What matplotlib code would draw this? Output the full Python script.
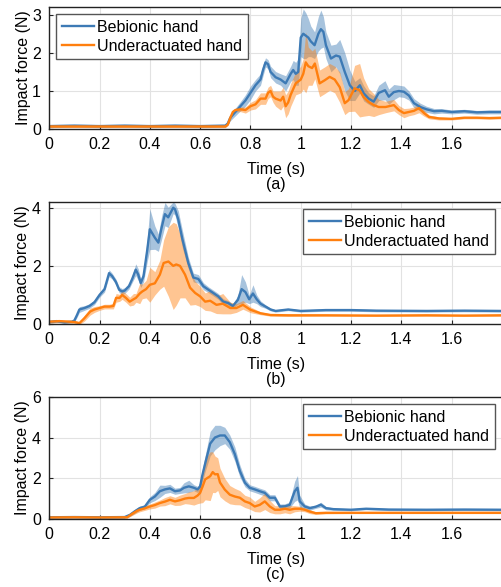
import matplotlib
matplotlib.use('Agg')
import matplotlib.pyplot as plt

plt.rcParams['font.family'] = ['Liberation Sans', 'DejaVu Sans']
plt.rcParams['font.size'] = 11.5

BLUE = '#3d7ab5'
ORANGE = '#ff7f0e'

# ---- panel (a) ----
ta_b = [0, 0.1, 0.2, 0.3, 0.4, 0.5, 0.6, 0.7,
        0.71, 0.72, 0.74, 0.76, 0.78, 0.80, 0.82, 0.84, 0.85, 0.86,
        0.87, 0.88, 0.90, 0.92, 0.94, 0.96, 0.97, 0.98, 0.99, 1.00,
        1.01, 1.02, 1.03, 1.04, 1.055, 1.07, 1.08, 1.09, 1.10, 1.12,
        1.14, 1.155, 1.175, 1.195, 1.215, 1.235, 1.25, 1.27, 1.29, 1.31,
        1.335, 1.35, 1.37, 1.39, 1.41, 1.43, 1.45, 1.475, 1.50, 1.53,
        1.56, 1.60, 1.65, 1.70, 1.75, 1.80]
va_b = [0.08, 0.09, 0.08, 0.09, 0.08, 0.09, 0.08, 0.09,
        0.15, 0.3, 0.45, 0.6, 0.75, 0.95, 1.15, 1.3, 1.55, 1.75,
        1.7, 1.5, 1.36, 1.3, 1.2, 1.45, 1.55, 1.45, 1.5, 2.4,
        2.5, 2.45, 2.4, 2.3, 2.2, 2.5, 2.62, 2.55, 2.2, 1.85,
        1.93, 1.9, 1.5, 1.15, 1.0, 1.15, 0.94, 0.8, 0.72, 0.95,
        1.02, 0.85, 0.97, 1.0, 0.98, 0.88, 0.68, 0.58, 0.52, 0.47,
        0.48, 0.45, 0.47, 0.44, 0.45, 0.45]
sa_b = [0.04] * 8 + \
       [0.05, 0.08, 0.1, 0.12, 0.15, 0.18, 0.15, 0.15, 0.15, 0.12,
        0.12, 0.15, 0.15, 0.15, 0.2, 0.2, 0.25, 0.3, 0.35, 0.5,
        0.65, 0.6, 0.5, 0.4, 0.35, 0.45, 0.5, 0.4, 0.35, 0.35,
        0.3, 0.45, 0.5, 0.4, 0.25, 0.2, 0.2, 0.15, 0.15, 0.2,
        0.25, 0.2, 0.2, 0.15, 0.15, 0.12, 0.12, 0.1, 0.08, 0.07,
        0.06, 0.05, 0.05, 0.05, 0.05, 0.05]

ta_o = [0, 0.1, 0.2, 0.3, 0.4, 0.5, 0.6, 0.7,
        0.71, 0.72, 0.73, 0.74, 0.76, 0.78, 0.80, 0.82, 0.84, 0.86,
        0.87, 0.88, 0.89, 0.90, 0.92, 0.93, 0.94, 0.95, 0.96, 0.98,
        1.00, 1.01, 1.02, 1.03, 1.045, 1.056, 1.075, 1.095, 1.115, 1.135,
        1.155, 1.175, 1.19, 1.214, 1.234, 1.25, 1.27, 1.29, 1.31, 1.337,
        1.37, 1.39, 1.41, 1.43, 1.45, 1.47, 1.49, 1.51, 1.55, 1.60,
        1.65, 1.70, 1.75, 1.80]
va_o = [0.07] * 8 + \
       [0.12, 0.3, 0.45, 0.5, 0.52, 0.5, 0.6, 0.65, 0.8, 0.8,
        0.95, 1.0, 0.85, 0.8, 0.75, 0.85, 0.6, 0.7, 0.9, 1.2,
        1.3, 1.45, 1.75, 1.65, 1.6, 1.72, 1.2, 1.28, 1.37, 1.3,
        1.1, 0.68, 0.76, 1.07, 1.02, 0.84, 0.71, 0.63, 0.58, 0.58,
        0.63, 0.5, 0.42, 0.45, 0.48, 0.55, 0.42, 0.32, 0.28, 0.27,
        0.3, 0.3, 0.29, 0.3]
sa_o = [0.03] * 8 + \
       [0.03, 0.05, 0.05, 0.05, 0.06, 0.08, 0.1, 0.12, 0.15, 0.15,
        0.15, 0.15, 0.15, 0.2, 0.25, 0.25, 0.3, 0.3, 0.3, 0.3,
        0.35, 0.4, 0.8, 0.5, 0.45, 0.4, 0.35, 0.35, 0.35, 0.35,
        0.4, 0.3, 0.3, 0.6, 0.7, 0.5, 0.35, 0.3, 0.2, 0.15,
        0.15, 0.12, 0.12, 0.1, 0.1, 0.12, 0.08, 0.05, 0.04, 0.03,
        0.03, 0.03, 0.03, 0.03]

# ---- panel (b) ----
tb_b = [0, 0.03, 0.06, 0.09, 0.10, 0.11, 0.12, 0.14, 0.16, 0.18,
        0.20, 0.22, 0.238, 0.25, 0.265, 0.278, 0.29, 0.30, 0.317, 0.33,
        0.344, 0.354, 0.364, 0.375, 0.39, 0.40, 0.42, 0.434, 0.447, 0.46,
        0.473, 0.493, 0.50, 0.513, 0.53, 0.553, 0.573, 0.593, 0.613, 0.633,
        0.652, 0.672, 0.692, 0.712, 0.73, 0.75, 0.765, 0.78, 0.795, 0.81,
        0.825, 0.84, 0.86, 0.88, 0.90, 0.95, 1.0, 1.1, 1.2, 1.3,
        1.5, 1.65, 1.8]
vb_b = [0.07, 0.1, 0.06, 0.08, 0.12, 0.3, 0.5, 0.55, 0.62, 0.75,
        1.0, 1.2, 1.75, 1.65, 1.45, 1.18, 1.12, 1.15, 1.3, 1.55,
        1.87, 1.7, 1.41, 1.65, 2.56, 3.26, 2.97, 2.8, 3.32, 3.78,
        3.67, 4.0, 3.95, 3.6, 2.9, 2.1, 1.6, 1.55, 1.3, 1.18,
        1.07, 0.95, 0.77, 0.72, 0.62, 0.83, 1.2, 1.1, 0.85, 1.05,
        0.85, 0.7, 0.6, 0.5, 0.45, 0.5, 0.45, 0.48, 0.48, 0.46,
        0.45, 0.46, 0.45]
sb_b = [0.04, 0.04, 0.04, 0.04, 0.05, 0.08, 0.1, 0.08, 0.08, 0.08,
        0.08, 0.1, 0.12, 0.1, 0.1, 0.1, 0.1, 0.1, 0.1, 0.12,
        0.2, 0.2, 0.15, 0.2, 0.4, 0.7, 0.4, 0.3, 0.4, 0.4,
        0.35, 0.2, 0.2, 0.3, 0.3, 0.2, 0.15, 0.15, 0.12, 0.1,
        0.1, 0.1, 0.1, 0.08, 0.08, 0.15, 0.5, 0.35, 0.15, 0.3,
        0.15, 0.1, 0.06, 0.05, 0.04, 0.04, 0.04, 0.04, 0.04, 0.04,
        0.04, 0.04, 0.04]

tb_o = [0, 0.04, 0.08, 0.10, 0.12, 0.14, 0.163, 0.18, 0.20, 0.22,
        0.24, 0.255, 0.266, 0.28, 0.29, 0.305, 0.32, 0.335, 0.345, 0.36,
        0.37, 0.385, 0.40, 0.42, 0.44, 0.455, 0.474, 0.493, 0.505, 0.52,
        0.54, 0.56, 0.58, 0.60, 0.62, 0.64, 0.665, 0.69, 0.72, 0.744,
        0.77, 0.80, 0.84, 0.88, 0.95, 1.1, 1.3, 1.5, 1.65, 1.8]
vb_o = [0.08, 0.1, 0.08, 0.07, 0.03, 0.2, 0.43, 0.5, 0.55, 0.6,
        0.6, 0.62, 0.9, 0.9, 1.0, 0.9, 0.77, 0.85, 0.9, 1.05,
        1.12, 1.2, 1.35, 1.4, 1.7, 2.1, 2.15, 2.0, 2.05, 2.0,
        1.7, 1.25, 1.07, 0.95, 0.77, 0.8, 0.66, 0.7, 0.55, 0.55,
        0.66, 0.49, 0.37, 0.31, 0.3, 0.3, 0.29, 0.3, 0.29, 0.3]
sb_o = [0.05, 0.05, 0.05, 0.05, 0.05, 0.1, 0.12, 0.1, 0.08, 0.08,
        0.08, 0.1, 0.15, 0.12, 0.15, 0.15, 0.15, 0.2, 0.15, 0.35,
        0.25, 0.3, 0.6, 0.4, 0.5, 0.8, 1.2, 1.5, 1.4, 1.1,
        0.8, 0.6, 0.4, 0.35, 0.3, 0.35, 0.3, 0.35, 0.2, 0.15,
        0.15, 0.1, 0.05, 0.04, 0.04, 0.03, 0.03, 0.03, 0.03, 0.03]

# ---- panel (c) ----
tc_b = [0, 0.1, 0.2, 0.3, 0.321, 0.34, 0.36, 0.38, 0.40, 0.42,
        0.44, 0.46, 0.48, 0.50, 0.52, 0.536, 0.555, 0.575, 0.59, 0.60,
        0.608, 0.621, 0.64, 0.659, 0.679, 0.698, 0.718, 0.738, 0.758, 0.778,
        0.797, 0.817, 0.837, 0.857, 0.877, 0.897, 0.917, 0.937, 0.956, 0.976,
        0.987, 0.996, 1.016, 1.036, 1.06, 1.08, 1.10, 1.13, 1.2, 1.26,
        1.35, 1.5, 1.65, 1.8]
vc_b = [0.08, 0.09, 0.08, 0.09, 0.2, 0.37, 0.53, 0.6, 0.94, 1.1,
        1.36, 1.45, 1.5, 1.36, 1.4, 1.53, 1.6, 1.53, 1.45, 1.6,
        2.1, 2.77, 3.7, 4.0, 4.1, 4.1, 3.77, 3.18, 2.35, 1.78,
        1.53, 1.45, 1.36, 1.28, 1.04, 1.04, 0.61, 0.62, 0.69, 1.36,
        1.53, 0.86, 0.61, 0.53, 0.6, 0.7, 0.53, 0.48, 0.45, 0.5,
        0.46, 0.45, 0.46, 0.45]
sc_b = [0.05, 0.05, 0.05, 0.05, 0.08, 0.1, 0.1, 0.1, 0.15, 0.2,
        0.3, 0.2, 0.2, 0.15, 0.15, 0.25, 0.3, 0.15, 0.15, 0.2,
        0.3, 0.4, 0.6, 0.6, 0.5, 0.4, 0.35, 0.35, 0.3, 0.2,
        0.15, 0.15, 0.15, 0.15, 0.15, 0.15, 0.12, 0.12, 0.15, 0.5,
        0.6, 0.3, 0.12, 0.1, 0.08, 0.12, 0.08, 0.06, 0.05, 0.05,
        0.05, 0.05, 0.05, 0.05]

tc_o = [0, 0.1, 0.2, 0.31, 0.33, 0.35, 0.36, 0.38, 0.40, 0.42,
        0.44, 0.46, 0.48, 0.50, 0.52, 0.54, 0.555, 0.575, 0.59, 0.60,
        0.61, 0.62, 0.64, 0.65, 0.659, 0.67, 0.679, 0.698, 0.718, 0.738,
        0.758, 0.778, 0.797, 0.817, 0.837, 0.857, 0.877, 0.897, 0.917, 0.937,
        0.956, 0.976, 0.996, 1.016, 1.036, 1.06, 1.1, 1.2, 1.4, 1.6,
        1.8]
vc_o = [0.07, 0.08, 0.07, 0.08, 0.25, 0.4, 0.45, 0.52, 0.61, 0.68,
        0.78, 0.85, 0.94, 0.86, 0.92, 1.0, 1.03, 1.03, 1.15, 1.28,
        1.6, 1.94, 2.1, 2.3, 2.19, 2.2, 1.79, 1.44, 1.19, 1.1,
        1.04, 0.86, 0.78, 0.61, 0.69, 0.86, 0.61, 0.45, 0.45, 0.5,
        0.45, 0.5, 0.5, 0.45, 0.36, 0.28, 0.3, 0.3, 0.3, 0.3,
        0.3]
sc_o = [0.04, 0.04, 0.04, 0.04, 0.08, 0.1, 0.1, 0.1, 0.12, 0.15,
        0.15, 0.2, 0.2, 0.2, 0.25, 0.25, 0.3, 0.35, 0.4, 0.5,
        0.8, 1.0, 1.2, 1.0, 0.9, 0.8, 0.7, 0.55, 0.45, 0.4,
        0.35, 0.3, 0.3, 0.25, 0.35, 0.4, 0.3, 0.2, 0.2, 0.2,
        0.2, 0.15, 0.12, 0.1, 0.1, 0.06, 0.05, 0.04, 0.04, 0.04,
        0.04]

xticks = [0, 0.2, 0.4, 0.6, 0.8, 1, 1.2, 1.4, 1.6]
xticklabels = ['0', '0.2', '0.4', '0.6', '0.8', '1', '1.2', '1.4', '1.6']

panels = [
    (ta_b, va_b, sa_b, ta_o, va_o, sa_o, 3.2, [0, 1, 2, 3], '(a)', 'upper left', 0.780),
    (tb_b, vb_b, sb_b, tb_o, vb_o, sb_o, 4.2, [0, 2, 4], '(b)', 'upper right', 0.448),
    (tc_b, vc_b, sc_b, tc_o, vc_o, sc_o, 6.0, [0, 2, 4, 6], '(c)', 'upper right', 0.116),
]

fig = plt.figure(figsize=(5.02, 5.87), dpi=100)

for tb, vb, sb, to, vo, so, ymax, yticks, tag, loc, bottom in panels:
    ax = fig.add_axes([0.098, bottom, 0.902, 0.208])
    lo = [v - s for v, s in zip(vb, sb)]
    hi = [v + s for v, s in zip(vb, sb)]
    ax.fill_between(tb, lo, hi, color=BLUE, alpha=0.45, linewidth=0)
    lo = [v - s for v, s in zip(vo, so)]
    hi = [v + s for v, s in zip(vo, so)]
    ax.fill_between(to, lo, hi, color=ORANGE, alpha=0.45, linewidth=0)
    ax.plot(tb, vb, color=BLUE, lw=1.7, label='Bebionic hand')
    ax.plot(to, vo, color=ORANGE, lw=1.7, label='Underactuated hand')

    ax.set_xlim(0, 1.8)
    ax.set_ylim(0, ymax)
    ax.set_xticks(xticks)
    ax.set_xticklabels(xticklabels)
    ax.set_yticks(yticks)
    ax.grid(True, color='#e2e2e2', lw=0.8)
    ax.set_axisbelow(True)
    ax.tick_params(direction='in', length=3, width=0.8, color='#222222', pad=6)
    for side in ['top', 'bottom', 'left', 'right']:
        ax.spines[side].set_color('#222222')
        ax.spines[side].set_linewidth(1.0)
    ax.set_xlabel('Time (s)\n' + tag, labelpad=7, linespacing=1.0)
    ax.set_ylabel('Impact force (N)', labelpad=1)
    ax.legend(loc=loc, frameon=True, fancybox=False, framealpha=1,
              edgecolor='#555555', handlelength=2.0, borderaxespad=0.45,
              fontsize=11.5, handletextpad=0.2, labelspacing=0.25,
              borderpad=0.35)

plt.savefig('out.png', dpi=100)
